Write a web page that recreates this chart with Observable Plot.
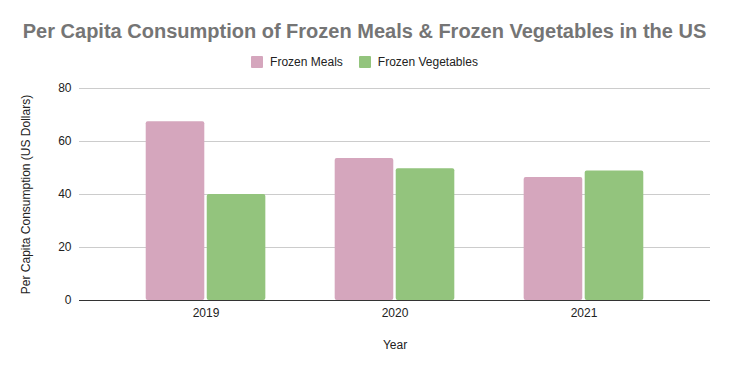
<!DOCTYPE html>
<html><head><meta charset="utf-8">
<script src="https://cdn.jsdelivr.net/npm/d3@7"></script>
<script src="https://cdn.jsdelivr.net/npm/@observablehq/plot@0.6"></script>
<style>
body{margin:0;background:#fff;font-family:"Liberation Sans",Arial,sans-serif;}
#wrap{width:729px;height:371px;position:relative;overflow:hidden;}
#title{position:absolute;left:0;width:729px;top:19px;text-align:center;font-size:20px;line-height:24px;font-weight:bold;color:#757575;}
#legend{position:absolute;left:0;width:729px;top:55px;height:14px;display:flex;justify-content:center;align-items:center;font-size:12px;color:#222;}
.sw{display:inline-block;width:12px;height:12px;border-radius:1px;margin-right:7px;}
.item{display:flex;align-items:center;margin:0 8px;}
.layer{position:absolute;left:0;top:75px;}
.layer svg{background:transparent !important;}
</style></head>
<body><div id="wrap"><div id="title"></div><div id="legend"></div><div id="bg" class="layer"></div><div id="fg" class="layer"></div></div>
<script>
const title = "Per Capita Consumption of Frozen Meals & Frozen Vegetables in the US";
const years = ["2019", "2020", "2021"];
const seriesNames = ["Frozen Meals", "Frozen Vegetables"];
const frozenMeals = [67.5, 53.6, 46.4];
const frozenVegetables = [40.0, 49.7, 48.9];
const colors = ["#d5a6bd", "#93c47d"];
const yTicks = [0, 20, 40, 60, 80];
const xLabel = "Year";
const yLabel = "Per Capita Consumption (US Dollars)";

document.getElementById("title").textContent = title;
const leg = document.getElementById("legend");
seriesNames.forEach((s, i) => {
  const it = document.createElement("div"); it.className = "item";
  const sw = document.createElement("span"); sw.className = "sw"; sw.style.background = colors[i];
  const t = document.createElement("span"); t.textContent = s;
  it.appendChild(sw); it.appendChild(t); leg.appendChild(it);
});

const data = [];
years.forEach((y, i) => {
  data.push({year: y, series: seriesNames[0], value: frozenMeals[i]});
  data.push({year: y, series: seriesNames[1], value: frozenVegetables[i]});
});

const common = {
  width: 729,
  height: 296,
  marginLeft: 79,
  marginRight: 19,
  marginTop: 13,
  marginBottom: 71,
  style: {fontFamily: "'Liberation Sans', Arial, sans-serif", fontSize: "12px", color: "#222", background: "transparent"},
  y: {domain: [0, 80], ticks: yTicks}
};

const bg = Plot.plot({
  ...common,
  x: {type: "band", domain: years, paddingInner: 0.367, paddingOuter: 0.353, round: false},
  marks: [
    Plot.gridY(yTicks, {stroke: "#cccccc", strokeOpacity: 1}),
    Plot.axisY(yTicks, {tickSize: 0, tickPadding: 8, label: yLabel, labelAnchor: "center", labelArrow: "none", labelOffset: 58, fontSize: 12}),
    Plot.axisX({tickSize: 0, tickPadding: 8, label: xLabel, labelAnchor: "center", labelArrow: "none", labelOffset: 48, fontSize: 12}),
    Plot.ruleY([0], {stroke: "#333333", strokeWidth: 1})
  ]
});
document.getElementById("bg").appendChild(bg);

const fg = Plot.plot({
  ...common,
  fx: {domain: years, paddingInner: 0.367, paddingOuter: 0.353, round: false, axis: null},
  x: {domain: seriesNames, paddingInner: 0.04, paddingOuter: 0, round: false, axis: null},
  y: {domain: [0, 80], axis: null},
  color: {domain: seriesNames, range: colors},
  marks: [
    Plot.barY(data, {fx: "year", x: "series", y: "value", fill: "series", rx: 2})
  ]
});
document.getElementById("fg").appendChild(fg);
</script></body></html>
